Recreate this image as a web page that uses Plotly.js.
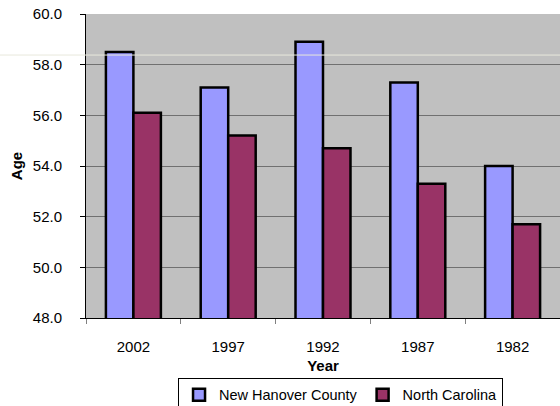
<!DOCTYPE html>
<html>
<head>
<meta charset="utf-8">
<script src="https://cdn.plot.ly/plotly-3.0.1.min.js"></script>
<style>html,body{margin:0;padding:0;background:#fff;}#chart{width:560px;height:406px;}</style>
</head>
<body>
<div id="chart"></div>
<script>
var years = ["2002", "1997", "1992", "1987", "1982"];
var newHanover = [58.5, 57.1, 58.9, 57.3, 54.0];
var northCarolina = [56.1, 55.2, 54.7, 53.3, 51.7];
var seriesNames = ["New Hanover County", "North Carolina"];
var yTicks = [48, 50, 52, 54, 56, 58, 60];

var traces = [
  {type: "bar", name: seriesNames[0], x: years, y: newHanover,
   marker: {color: "#9999FF", line: {color: "#000000", width: 2.5}}},
  {type: "bar", name: seriesNames[1], x: years, y: northCarolina,
   marker: {color: "#993366", line: {color: "#000000", width: 2.5}}}
];

var layout = {
  width: 560, height: 406,
  margin: {l: 86, r: 0, t: 14, b: 88, autoexpand: false},
  paper_bgcolor: "#ffffff",
  plot_bgcolor: "#C0C0C0",
  font: {family: "Arial, 'Liberation Sans', sans-serif", size: 15, color: "#000"},
  barmode: "group",
  bargap: 0.42,
  bargroupgap: 0,
  showlegend: true,
  legend: {orientation: "h", x: 0.537, xanchor: "center", y: -0.197, yanchor: "top",
           bordercolor: "#000", borderwidth: 1, bgcolor: "#fff",
           font: {size: 14.5}, itemwidth: 30, traceorder: "normal"},
  xaxis: {type: "category", showline: true, linecolor: "#000", linewidth: 1,
          ticks: "outside", tickson: "boundaries", ticklen: 5, tickcolor: "#808080",
          ticklabelstandoff: 15,
          showgrid: false, zeroline: false,
          title: {text: "<b>Year</b>", font: {size: 15}, standoff: 6}},
  yaxis: {range: [48, 60], tickvals: yTicks, tickformat: ".1f",
          showline: true, linecolor: "#000", linewidth: 1,
          ticks: "outside", ticklen: 5, tickcolor: "#000",
          ticklabelstandoff: 15,
          showgrid: true, gridcolor: "#707070", gridwidth: 1, zeroline: false,
          title: {text: "<b>Age</b>", font: {size: 15}, standoff: 6}},
  shapes: [
    {type: "line", xref: "paper", yref: "paper", x0: -0.19, x1: 1, y0: 0.865, y1: 0.865,
     line: {color: "#E8E8DC", width: 1}, layer: "above"}
  ]
};

Plotly.newPlot("chart", traces, layout, {displayModeBar: false, staticPlot: true});
</script>
</body>
</html>
